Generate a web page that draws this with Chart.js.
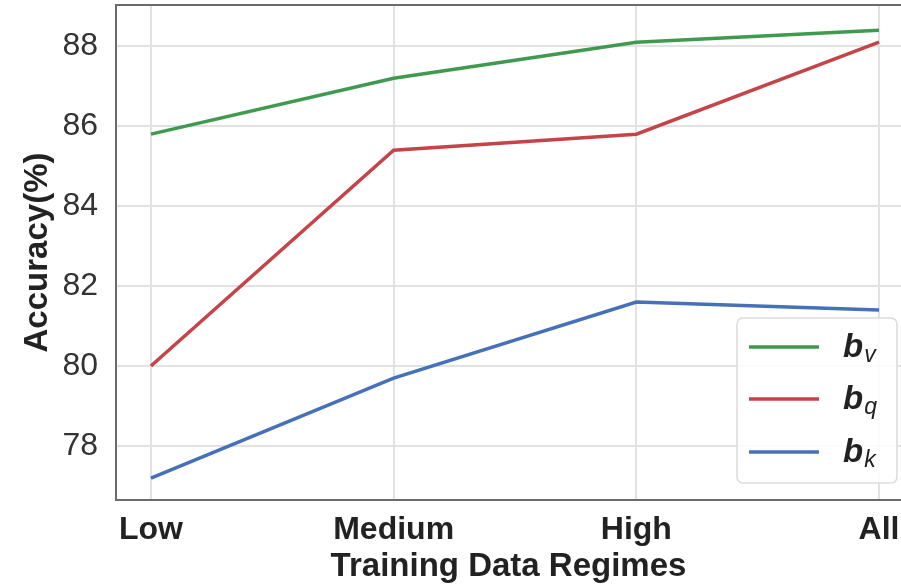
<!DOCTYPE html>
<html>
<head>
<meta charset="utf-8">
<script src="https://cdn.jsdelivr.net/npm/chart.js@4.4.1/dist/chart.umd.min.js"></script>
<style>
  html, body { margin: 0; padding: 0; background: #ffffff; overflow: hidden; }
  #wrap { width: 901px; height: 587px; position: relative; }
</style>
</head>
<body>
<div id="wrap"><canvas id="chart"></canvas></div>
<script>
// Training data regimes on the x axis
const regimes = ['Low', 'Medium', 'High', 'All'];

// Accuracy (%) for each bias term
const accBv = [85.8, 87.2, 88.1, 88.4];
const accBq = [80.0, 85.4, 85.8, 88.1];
const accBk = [77.2, 79.7, 81.6, 81.4];

// Legend symbols: bold italic "b" with an italic subscript
const seriesSub = ['v', 'q', 'k'];

// Y tick values
const yTicks = [78, 80, 82, 84, 86, 88];

const colGreen = '#3f9a50';
const colRed = '#c4444a';
const colBlue = '#4670b8';

const FONT = '"Liberation Sans", Arial, sans-serif';

const toPoints = arr => arr.map((v, i) => ({ x: i, y: v }));

// Frame on the left, top and bottom of the plot area
const framePlugin = {
  id: 'frame',
  afterDraw(chart) {
    const { ctx, chartArea: a } = chart;
    ctx.save();
    ctx.strokeStyle = '#6b6b6b';
    ctx.lineWidth = 2;
    ctx.beginPath();
    ctx.moveTo(a.right + 5, a.top);
    ctx.lineTo(a.left, a.top);
    ctx.lineTo(a.left, a.bottom);
    ctx.lineTo(a.right + 5, a.bottom);
    ctx.stroke();
    ctx.restore();
  }
};

// Legend inside the plot area, lower right
const legendPlugin = {
  id: 'subLegend',
  afterDraw(chart) {
    const { ctx } = chart;
    const x0 = 737, y0 = 318, w = 160, h = 165, r = 6;
    ctx.save();
    ctx.beginPath();
    ctx.moveTo(x0 + r, y0);
    ctx.arcTo(x0 + w, y0, x0 + w, y0 + h, r);
    ctx.arcTo(x0 + w, y0 + h, x0, y0 + h, r);
    ctx.arcTo(x0, y0 + h, x0, y0, r);
    ctx.arcTo(x0, y0, x0 + w, y0, r);
    ctx.closePath();
    ctx.fillStyle = 'rgba(255,255,255,0.85)';
    ctx.fill();
    ctx.strokeStyle = '#dcdcdc';
    ctx.lineWidth = 1.5;
    ctx.stroke();

    const rows = [347, 399, 452];
    chart.data.datasets.forEach((ds, i) => {
      const y = rows[i];
      ctx.strokeStyle = ds.borderColor;
      ctx.lineWidth = 3.5;
      ctx.beginPath();
      ctx.moveTo(749, y);
      ctx.lineTo(819, y);
      ctx.stroke();

      ctx.fillStyle = '#222222';
      ctx.textBaseline = 'alphabetic';
      ctx.textAlign = 'left';
      ctx.font = 'italic bold 33px ' + FONT;
      ctx.fillText('b', 843, y + 10);
      const bw = ctx.measureText('b').width;
      ctx.font = 'italic 23px ' + FONT;
      ctx.fillText(seriesSub[i], 843 + bw + 1, y + 15);
    });
    ctx.restore();
  }
};

new Chart(document.getElementById('chart'), {
  type: 'line',
  data: {
    datasets: [
      { label: 'b_v', data: toPoints(accBv), borderColor: colGreen, backgroundColor: colGreen, borderWidth: 3.5, pointRadius: 0, tension: 0 },
      { label: 'b_q', data: toPoints(accBq), borderColor: colRed, backgroundColor: colRed, borderWidth: 3.5, pointRadius: 0, tension: 0 },
      { label: 'b_k', data: toPoints(accBk), borderColor: colBlue, backgroundColor: colBlue, borderWidth: 3.5, pointRadius: 0, tension: 0 }
    ]
  },
  options: {
    responsive: true,
    maintainAspectRatio: false,
    animation: false,
    layout: { padding: { top: 5, right: 0, left: 0, bottom: 0 } },
    plugins: {
      legend: { display: false },
      tooltip: { enabled: false }
    },
    scales: {
      x: {
        type: 'linear',
        position: 'bottom',
        min: -0.144,
        max: 3.0905,
        afterBuildTicks: s => { s.ticks = regimes.map((_, i) => ({ value: i })); },
        afterFit: s => { s.height = 87; s.paddingLeft = 0; s.paddingRight = 0; },
        grid: { color: '#e2e2e2', lineWidth: 2, drawTicks: false },
        border: { display: false },
        ticks: {
          padding: 11,
          color: '#222222',
          maxRotation: 0,
          font: { family: FONT, size: 32, weight: 'bold' },
          callback: v => regimes[v] ?? ''
        },
        title: {
          display: true,
          text: 'Training Data Regimes',
          color: '#222222',
          font: { family: FONT, size: 33, weight: 'bold', lineHeight: 1.2 },
          padding: { top: 0, bottom: 0 }
        }
      },
      y: {
        type: 'linear',
        position: 'left',
        min: 76.65,
        max: 89.03,
        afterBuildTicks: s => { s.ticks = yTicks.map(v => ({ value: v })); },
        afterFit: s => { s.width = 116; s.paddingTop = 0; s.paddingBottom = 0; },
        grid: { color: '#e2e2e2', lineWidth: 2, drawTicks: false },
        border: { display: false },
        ticks: {
          padding: 18,
          color: '#333333',
          font: { family: FONT, size: 32 }
        },
        title: {
          display: true,
          text: 'Accuracy(%)',
          color: '#222222',
          font: { family: FONT, size: 33, weight: 'bold', lineHeight: 1.2 },
          padding: { top: 18, bottom: 0 }
        }
      }
    }
  },
  plugins: [framePlugin, legendPlugin]
});
</script>
</body>
</html>
